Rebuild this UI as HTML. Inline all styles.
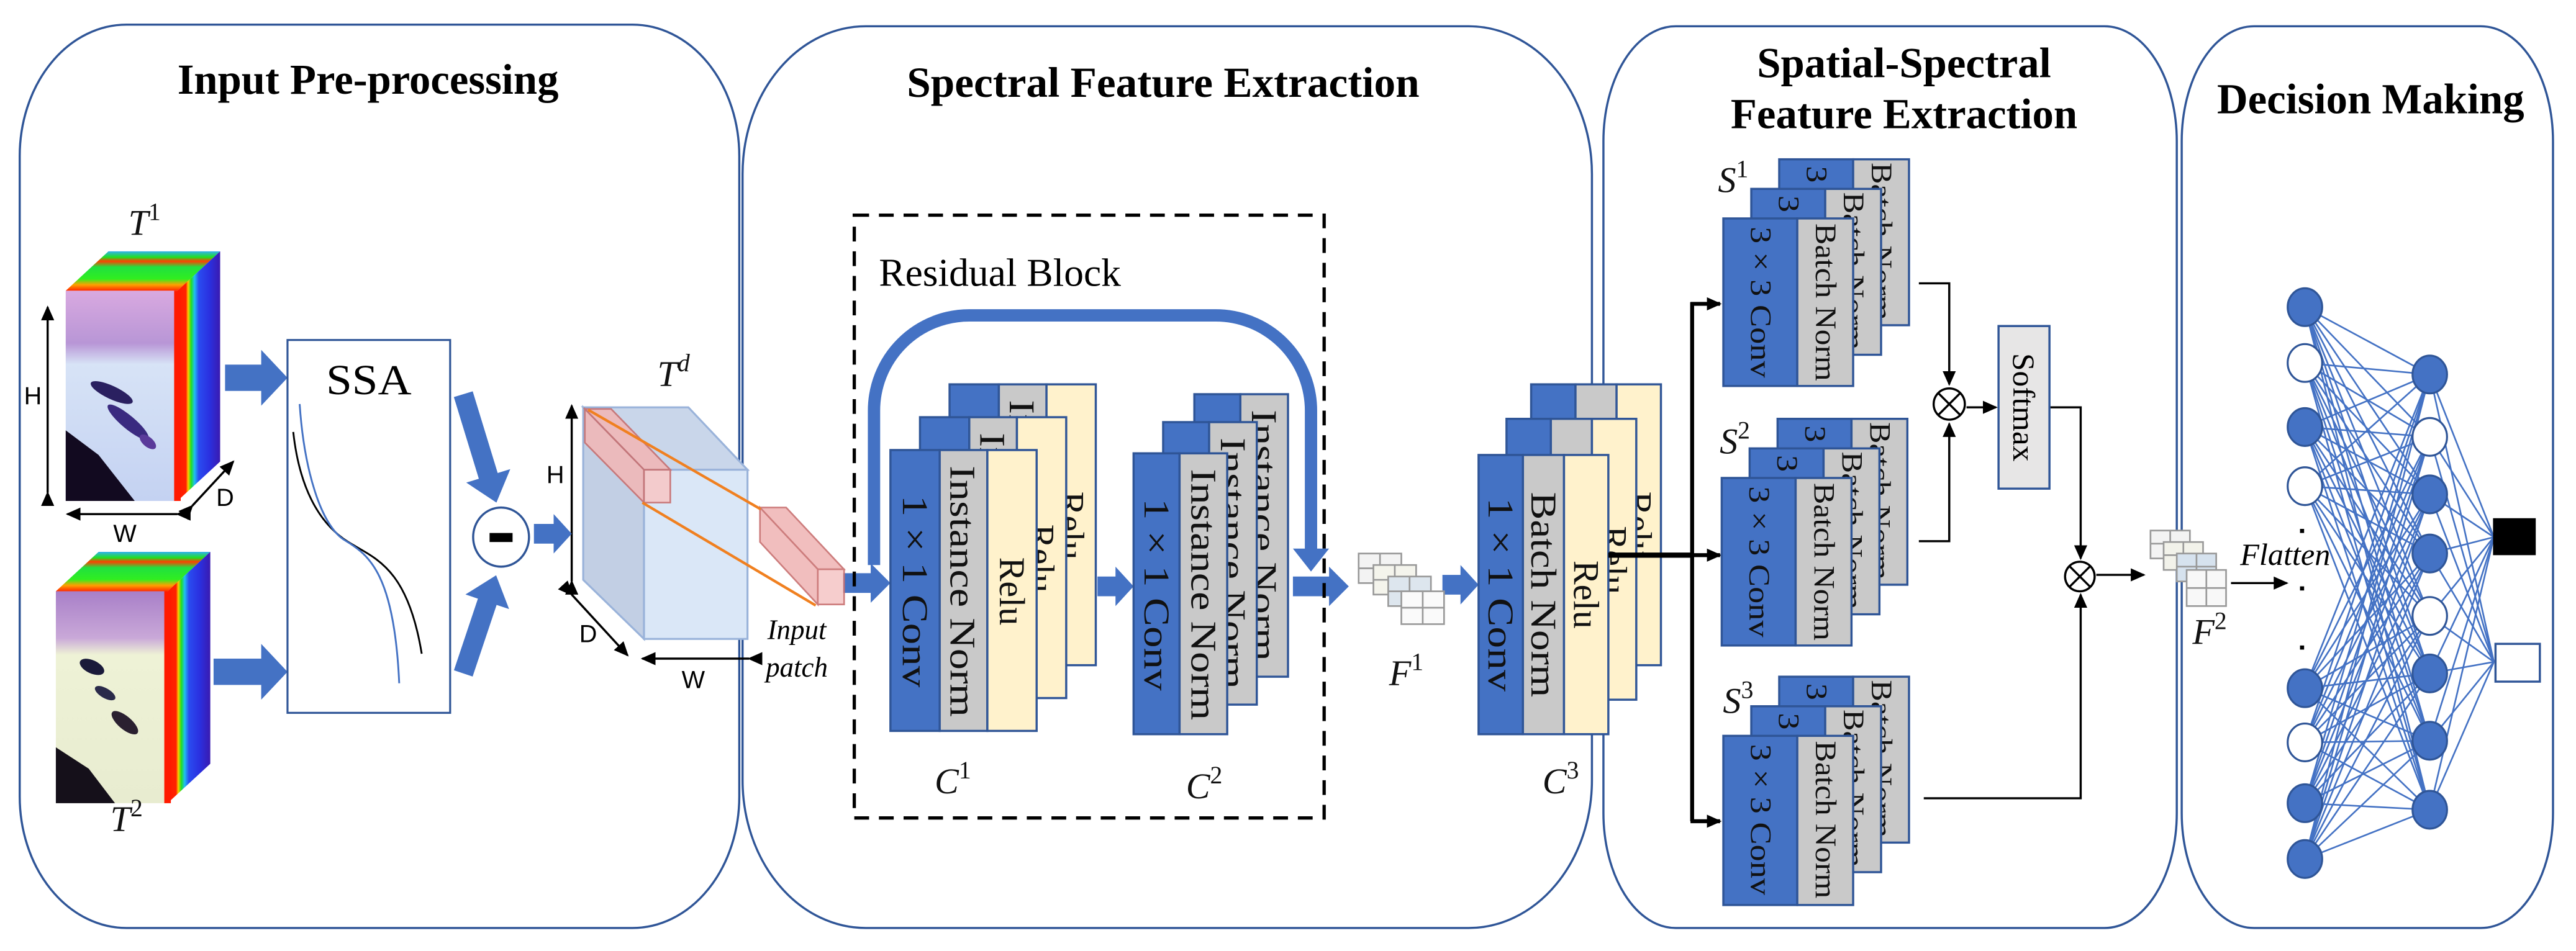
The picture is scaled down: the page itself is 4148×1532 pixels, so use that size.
<!DOCTYPE html>
<html><head><meta charset="utf-8">
<style>
html,body{margin:0;padding:0;background:#fff;}
svg{display:block;}
text{font-family:"Liberation Serif",serif;}
.t{font-weight:bold;font-size:26px;fill:#000;}
.c{font-size:22px;fill:#111;}
.s{font-size:18px;fill:#111;}
.sa{font-family:"Liberation Sans",sans-serif;font-size:15px;}
.it{font-style:italic;}
</style></head>
<body>
<svg width="4148" height="1532" viewBox="0 0 1568 579" preserveAspectRatio="none" xmlns="http://www.w3.org/2000/svg">
<defs>
<marker id="ah" markerWidth="10" markerHeight="10" refX="8" refY="5" orient="auto" markerUnits="userSpaceOnUse">
<path d="M0,1 L9,5 L0,9 Z" fill="#000"/></marker>
<linearGradient id="f1" x1="0" y1="0" x2="0" y2="1">
<stop offset="0" stop-color="#d9a9e0"/><stop offset="0.25" stop-color="#b896d6"/><stop offset="0.35" stop-color="#d7e3f6"/><stop offset="1" stop-color="#c4d2f2"/></linearGradient>
<linearGradient id="f2" x1="0" y1="0" x2="0" y2="1">
<stop offset="0" stop-color="#a87fc8"/><stop offset="0.22" stop-color="#c9a8d8"/><stop offset="0.3" stop-color="#eef2d6"/><stop offset="1" stop-color="#e8ecd0"/></linearGradient>
<linearGradient id="rf" x1="0" y1="0" x2="1" y2="0">
<stop offset="0" stop-color="#ff1a00"/><stop offset="0.2" stop-color="#ff2200"/><stop offset="0.25" stop-color="#ffcc00"/><stop offset="0.32" stop-color="#20e020"/><stop offset="0.4" stop-color="#20c0f0"/><stop offset="0.5" stop-color="#2a4cf0"/><stop offset="0.75" stop-color="#2a30e0"/><stop offset="1" stop-color="#3a1ab0"/></linearGradient>
<linearGradient id="tf" x1="0" y1="1" x2="0" y2="0">
<stop offset="0" stop-color="#ff2a00"/><stop offset="0.15" stop-color="#ffa000"/><stop offset="0.3" stop-color="#30ee20"/><stop offset="0.6" stop-color="#20e040"/><stop offset="0.75" stop-color="#ff4000"/><stop offset="0.85" stop-color="#20e020"/><stop offset="1" stop-color="#30b0f0"/></linearGradient>
</defs>

<!-- panels -->
<g fill="none" stroke="#2f5597" stroke-width="1.3">
<path d="M77,15 H385 A65,80 0 0 1 450,95 V485 A65,80 0 0 1 385,565 H77 A65,80 0 0 1 12,485 V95 A65,80 0 0 1 77,15 Z"/>
<path d="M527,16 H894 A75,90 0 0 1 969,106 V475 A75,90 0 0 1 894,565 H527 A75,90 0 0 1 452,475 V106 A75,90 0 0 1 527,16 Z"/>
<path d="M1020,16 H1281 A44,70 0 0 1 1325,86 V495 A44,70 0 0 1 1281,565 H1020 A44,70 0 0 1 976,495 V86 A44,70 0 0 1 1020,16 Z"/>
<path d="M1372,16 H1510 A44,70 0 0 1 1554,86 V495 A44,70 0 0 1 1510,565 H1372 A44,70 0 0 1 1328,495 V86 A44,70 0 0 1 1372,16 Z"/>
</g>

<!-- titles -->
<text class="t" x="224" y="57" text-anchor="middle" textLength="232" lengthAdjust="spacingAndGlyphs">Input Pre-processing</text>
<text class="t" x="708" y="59" text-anchor="middle" textLength="312" lengthAdjust="spacingAndGlyphs">Spectral Feature Extraction</text>
<text class="t" x="1159" y="47" text-anchor="middle" textLength="179" lengthAdjust="spacingAndGlyphs">Spatial-Spectral</text>
<text class="t" x="1159" y="78" text-anchor="middle" textLength="211" lengthAdjust="spacingAndGlyphs">Feature Extraction</text>
<text class="t" x="1443" y="69" text-anchor="middle" textLength="187" lengthAdjust="spacingAndGlyphs">Decision Making</text>

<!-- T1 cube -->
<g transform="translate(40,177)">
<polygon points="0,0 26,-24 94,-24 68,0" fill="url(#tf)"/>
<polygon points="68,0 94,-24 94,104 68,128" fill="url(#rf)"/>
<rect x="0" y="0" width="68" height="128" fill="url(#f1)"/>
<polygon points="0,85 20,100 42,128 0,128" fill="#120a20"/>
<ellipse cx="28" cy="62" rx="14" ry="4" transform="rotate(25 28 62)" fill="#2a2060"/>
<ellipse cx="38" cy="80" rx="16" ry="4" transform="rotate(40 38 80)" fill="#3a2a80"/>
<ellipse cx="50" cy="92" rx="6" ry="3" transform="rotate(40 50 92)" fill="#5a3a9a"/>
<rect x="66" y="0" width="4" height="128" fill="#ff1a00"/>
</g>
<!-- T2 cube -->
<g transform="translate(34,360)">
<polygon points="0,0 26,-24 94,-24 68,0" fill="url(#tf)"/>
<polygon points="68,0 94,-24 94,105 68,129" fill="url(#rf)"/>
<rect x="0" y="0" width="68" height="129" fill="url(#f2)"/>
<polygon points="0,95 20,108 36,129 0,129" fill="#15101a"/>
<ellipse cx="22" cy="46" rx="8" ry="4" transform="rotate(25 22 46)" fill="#1a1a3a"/>
<ellipse cx="30" cy="62" rx="7" ry="3" transform="rotate(30 30 62)" fill="#2a2a4a"/>
<ellipse cx="42" cy="80" rx="10" ry="4" transform="rotate(40 42 80)" fill="#2a2030"/>
<rect x="66" y="0" width="4" height="129" fill="#ff1a00"/>
</g>
<text x="88" y="143" class="c it" text-anchor="middle">T<tspan dy="-9" font-size="15" font-style="normal">1</tspan></text>
<text x="77" y="506" class="c it" text-anchor="middle">T<tspan dy="-9" font-size="15" font-style="normal">2</tspan></text>
<g stroke="#000" stroke-width="1.3" marker-end="url(#ah)" marker-start="url(#ah)">
<line x1="29" y1="300" x2="29" y2="187" />
<line x1="108" y1="313" x2="41" y2="313"/>
<line x1="117" y1="308" x2="142" y2="281"/>
<line x1="348" y1="354" x2="348" y2="247"/>
<line x1="348" y1="362" x2="382" y2="399"/>
<line x1="456" y1="401" x2="391" y2="401"/>
</g>
<text x="20" y="246" class="sa" text-anchor="middle">H</text>
<text x="76" y="330" class="sa" text-anchor="middle">W</text>
<text x="137" y="308" class="sa" text-anchor="middle">D</text>
<text x="338" y="294" class="sa" text-anchor="middle">H</text>
<text x="358" y="391" class="sa" text-anchor="middle">D</text>
<text x="422" y="419" class="sa" text-anchor="middle">W</text>

<!-- fat arrows -->
<g fill="#4472c4">
<path transform="translate(137,230)" d="M0,-8 H22 V-17 L38,0 L22,17 V8 H0 Z"/>
<path transform="translate(130,409)" d="M0,-8 H29 V-17 L45,0 L29,17 V8 H0 Z"/>
<path transform="translate(282,240) rotate(73)" d="M0,-6 H52 V-14 L69,0 L52,14 V6 H0 Z"/>
<path transform="translate(282,410) rotate(-71.5)" d="M0,-6 H46 V-14 L63,0 L46,14 V6 H0 Z"/>
<path transform="translate(325,325)" d="M0,-6 H12 V-12 L23,0 L12,12 V6 H0 Z"/>
<path transform="translate(513,355)" d="M0,-6 H17 V-12 L29,0 L17,12 V6 H0 Z"/>
<path transform="translate(668,357)" d="M0,-6 H11 V-12 L22,0 L11,12 V6 H0 Z"/>
<path transform="translate(787,357)" d="M0,-6 H22 V-12 L34,0 L22,12 V6 H0 Z"/>
<path transform="translate(878,356)" d="M0,-6 H11 V-12 L22,0 L11,12 V6 H0 Z"/>
</g>

<!-- SSA -->
<rect x="175" y="207" width="99" height="227" fill="#fff" stroke="#2f5597" stroke-width="1.2"/>
<text x="224.5" y="240" font-size="26" text-anchor="middle" textLength="52" lengthAdjust="spacingAndGlyphs">SSA</text>
<path d="M178.5,263 C182,295 193,318 212,330 C228,340 248,345 256.7,398" fill="none" stroke="#000" stroke-width="1.1"/>
<path d="M182.4,246 C185,285 195,320 210,329 C225,338 240,350 243,416" fill="none" stroke="#4472c4" stroke-width="1.1"/>

<!-- minus circle -->
<ellipse cx="305" cy="327" rx="17" ry="18" fill="#fff" stroke="#2f5597" stroke-width="1.3"/>
<rect x="298" y="324.5" width="14" height="5.5" fill="#000"/>

<!-- Td cube -->
<text x="410" y="235" class="c it" text-anchor="middle">T<tspan dy="-9" font-size="15">d</tspan></text>
<polygon points="355,248 419,248 455,286 392,286" fill="#c9d6ea" stroke="#9ab3da" stroke-width="1.2"/>
<polygon points="355,248 392,286 392,389 355,353" fill="#c2cfe4" stroke="#9ab3da" stroke-width="1.2"/>
<rect x="392" y="286" width="63" height="103" fill="#dae7f7" stroke="#9ab3da" stroke-width="1.2"/>
<g fill="#f0b8b8" stroke="#c87070" stroke-width="1" opacity="0.9">
<polygon points="356,249 372,249 408,286 392,286"/>
<polygon points="356,249 392,286 392,306 356,269.5"/>
<rect x="392" y="286" width="16" height="20" fill="#f6c8c8"/>
<polygon points="462.6,309 478.5,309 513.7,346.6 497.8,346.6"/>
<polygon points="462.6,309 497.8,346.6 497.8,368 462.6,330"/>
<rect x="497.8" y="346.6" width="16" height="21.4" fill="#f6c8c8"/>
</g>
<line x1="358" y1="249.5" x2="463" y2="310" stroke="#f08020" stroke-width="1.6"/>
<line x1="391" y1="306" x2="496.5" y2="368.6" stroke="#f08020" stroke-width="1.6"/>
<text x="485" y="389" font-size="17" class="it" text-anchor="middle">Input</text>
<text x="485" y="412" font-size="17" class="it" text-anchor="middle">patch</text>

<!-- Residual block -->
<rect x="520" y="131" width="286" height="367" fill="none" stroke="#000" stroke-width="2" stroke-dasharray="9,6"/>
<text x="535" y="174" font-size="24">Residual Block</text>
<path d="M532,344 V250 A58,58 0 0 1 590,192 H740 A58,58 0 0 1 798,250 V336" fill="none" stroke="#4472c4" stroke-width="7.5"/>
<polygon points="787,334 809,334 798,348" fill="#4472c4"/>

<!-- C1 cards -->
<g stroke="#2f5597" stroke-width="1.3">
<g transform="translate(578,234)"><rect width="30" height="171" fill="#4472c4"/><rect x="30" width="29" height="171" fill="#c9c9c9"/><rect x="59" width="30" height="171" fill="#fff2cc"/></g>
</g>
<g transform="translate(578,234)" class="c"><text transform="translate(44,86) rotate(90)" text-anchor="middle" dominant-baseline="central" textLength="153" lengthAdjust="spacingAndGlyphs">Instance Norm</text><text transform="translate(74,86) rotate(90)" text-anchor="middle" dominant-baseline="central">Relu</text></g>
<g stroke="#2f5597" stroke-width="1.3">
<g transform="translate(560,254)"><rect width="30" height="171" fill="#4472c4"/><rect x="30" width="29" height="171" fill="#c9c9c9"/><rect x="59" width="30" height="171" fill="#fff2cc"/></g>
</g>
<g transform="translate(560,254)" class="c"><text transform="translate(44,86) rotate(90)" text-anchor="middle" dominant-baseline="central" textLength="153" lengthAdjust="spacingAndGlyphs">Instance Norm</text><text transform="translate(74,86) rotate(90)" text-anchor="middle" dominant-baseline="central">Relu</text></g>
<g stroke="#2f5597" stroke-width="1.3">
<g transform="translate(542,274)"><rect width="30" height="171" fill="#4472c4"/><rect x="30" width="29" height="171" fill="#c9c9c9"/><rect x="59" width="30" height="171" fill="#fff2cc"/></g>
</g>
<g transform="translate(542,274)" class="c"><text transform="translate(15,86) rotate(90)" text-anchor="middle" dominant-baseline="central" textLength="117" lengthAdjust="spacingAndGlyphs">1 × 1 Conv</text><text transform="translate(44,86) rotate(90)" text-anchor="middle" dominant-baseline="central" textLength="153" lengthAdjust="spacingAndGlyphs">Instance Norm</text><text transform="translate(74,86) rotate(90)" text-anchor="middle" dominant-baseline="central">Relu</text></g>
<text x="580" y="483" class="c it" text-anchor="middle">C<tspan dy="-9" font-size="15" font-style="normal">1</tspan></text>

<!-- C2 cards -->
<g transform="translate(727,240)"><rect width="28" height="172" fill="#4472c4" stroke="#2f5597" stroke-width="1.3"/><rect x="28" width="29" height="172" fill="#c9c9c9" stroke="#2f5597" stroke-width="1.3"/><text class="c" transform="translate(42.5,86) rotate(90)" text-anchor="middle" dominant-baseline="central" textLength="153" lengthAdjust="spacingAndGlyphs">Instance Norm</text></g>
<g transform="translate(708,257)"><rect width="28" height="172" fill="#4472c4" stroke="#2f5597" stroke-width="1.3"/><rect x="28" width="29" height="172" fill="#c9c9c9" stroke="#2f5597" stroke-width="1.3"/><text class="c" transform="translate(42.5,86) rotate(90)" text-anchor="middle" dominant-baseline="central" textLength="153" lengthAdjust="spacingAndGlyphs">Instance Norm</text></g>
<g transform="translate(690,276)"><rect width="28" height="171" fill="#4472c4" stroke="#2f5597" stroke-width="1.3"/><rect x="28" width="29" height="171" fill="#c9c9c9" stroke="#2f5597" stroke-width="1.3"/><text class="c" transform="translate(14,86) rotate(90)" text-anchor="middle" dominant-baseline="central" textLength="117" lengthAdjust="spacingAndGlyphs">1 × 1 Conv</text><text class="c" transform="translate(42.5,86) rotate(90)" text-anchor="middle" dominant-baseline="central" textLength="153" lengthAdjust="spacingAndGlyphs">Instance Norm</text></g>
<text x="733" y="486" class="c it" text-anchor="middle">C<tspan dy="-9" font-size="15" font-style="normal">2</tspan></text>

<!-- F1 icon -->
<g fill="#fff" stroke="#999" stroke-width="1">
<rect x="827" y="337" width="26" height="18" fill="#f3f3f3"/><line x1="840" y1="337" x2="840" y2="355"/><line x1="827" y1="346" x2="853" y2="346"/>
<rect x="836" y="344" width="26" height="18" fill="#f4f4ec"/><line x1="849" y1="344" x2="849" y2="362"/><line x1="836" y1="353" x2="862" y2="353"/>
<rect x="845" y="351" width="26" height="18" fill="#dde6ee"/><line x1="858" y1="351" x2="858" y2="369"/><line x1="845" y1="360" x2="871" y2="360"/>
<rect x="853" y="360" width="26" height="20" fill="#fafafa"/><line x1="866" y1="360" x2="866" y2="380"/><line x1="853" y1="370" x2="879" y2="370"/>
</g>
<text x="856" y="417" class="c it" text-anchor="middle">F<tspan dy="-9" font-size="15" font-style="normal">1</tspan></text>

<!-- C3 cards -->
<g transform="translate(932,234)"><rect width="27" height="171" fill="#4472c4" stroke="#2f5597" stroke-width="1.3"/><rect x="27" width="25" height="171" fill="#c9c9c9" stroke="#2f5597" stroke-width="1.3"/><rect x="52" width="27" height="171" fill="#fff2cc" stroke="#2f5597" stroke-width="1.3"/><text class="c" transform="translate(65.5,86) rotate(90)" text-anchor="middle" dominant-baseline="central">Relu</text></g>
<g transform="translate(917,255)"><rect width="27" height="171" fill="#4472c4" stroke="#2f5597" stroke-width="1.3"/><rect x="27" width="25" height="171" fill="#c9c9c9" stroke="#2f5597" stroke-width="1.3"/><rect x="52" width="27" height="171" fill="#fff2cc" stroke="#2f5597" stroke-width="1.3"/><text class="c" transform="translate(65.5,86) rotate(90)" text-anchor="middle" dominant-baseline="central">Relu</text></g>
<g transform="translate(900,277)"><rect width="27" height="170" fill="#4472c4" stroke="#2f5597" stroke-width="1.3"/><rect x="27" width="25" height="170" fill="#c9c9c9" stroke="#2f5597" stroke-width="1.3"/><rect x="52" width="27" height="170" fill="#fff2cc" stroke="#2f5597" stroke-width="1.3"/><text class="c" transform="translate(13.5,85) rotate(90)" text-anchor="middle" dominant-baseline="central" textLength="118" lengthAdjust="spacingAndGlyphs">1 × 1 Conv</text><text class="c" transform="translate(39.5,85) rotate(90)" text-anchor="middle" dominant-baseline="central" textLength="125" lengthAdjust="spacingAndGlyphs">Batch Norm</text><text class="c" transform="translate(65.5,85) rotate(90)" text-anchor="middle" dominant-baseline="central">Relu</text></g>
<text x="950" y="483" class="c it" text-anchor="middle">C<tspan dy="-9" font-size="15" font-style="normal">3</tspan></text>

<!-- branch -->
<line x1="979" y1="338" x2="1031" y2="338" stroke="#000" stroke-width="3.2"/>
<line x1="1030" y1="184" x2="1030" y2="500" stroke="#000" stroke-width="2.4"/>
<g stroke="#000" stroke-width="2.4" marker-end="url(#ah)">
<line x1="1029" y1="185" x2="1047" y2="185"/>
<line x1="1029" y1="338" x2="1047" y2="338"/>
<line x1="1029" y1="500" x2="1047" y2="500"/>
</g>

<!-- S stacks -->
<g id="S1">
<g transform="translate(1083,97)"><rect width="45" height="101" fill="#4472c4" stroke="#2f5597" stroke-width="1.3"/><rect x="45" width="34" height="101" fill="#c9c9c9" stroke="#2f5597" stroke-width="1.3"/><text class="s" transform="translate(22.5,50) rotate(90)" text-anchor="middle" dominant-baseline="central" textLength="92" lengthAdjust="spacingAndGlyphs">3 × 3 Conv</text><text class="s" transform="translate(62,50) rotate(90)" text-anchor="middle" dominant-baseline="central" textLength="96" lengthAdjust="spacingAndGlyphs">Batch Norm</text></g>
<g transform="translate(1066,115)"><rect width="45" height="101" fill="#4472c4" stroke="#2f5597" stroke-width="1.3"/><rect x="45" width="34" height="101" fill="#c9c9c9" stroke="#2f5597" stroke-width="1.3"/><text class="s" transform="translate(22.5,50) rotate(90)" text-anchor="middle" dominant-baseline="central" textLength="92" lengthAdjust="spacingAndGlyphs">3 × 3 Conv</text><text class="s" transform="translate(62,50) rotate(90)" text-anchor="middle" dominant-baseline="central" textLength="96" lengthAdjust="spacingAndGlyphs">Batch Norm</text></g>
<g transform="translate(1049,133)"><rect width="45" height="102" fill="#4472c4" stroke="#2f5597" stroke-width="1.3"/><rect x="45" width="34" height="102" fill="#c9c9c9" stroke="#2f5597" stroke-width="1.3"/><text class="s" transform="translate(22.5,51) rotate(90)" text-anchor="middle" dominant-baseline="central" textLength="92" lengthAdjust="spacingAndGlyphs">3 × 3 Conv</text><text class="s" transform="translate(62,51) rotate(90)" text-anchor="middle" dominant-baseline="central" textLength="96" lengthAdjust="spacingAndGlyphs">Batch Norm</text></g>
</g>
<g>
<g transform="translate(1082,255)"><rect width="45" height="101" fill="#4472c4" stroke="#2f5597" stroke-width="1.3"/><rect x="45" width="34" height="101" fill="#c9c9c9" stroke="#2f5597" stroke-width="1.3"/><text class="s" transform="translate(22.5,50) rotate(90)" text-anchor="middle" dominant-baseline="central" textLength="92" lengthAdjust="spacingAndGlyphs">3 × 3 Conv</text><text class="s" transform="translate(62,50) rotate(90)" text-anchor="middle" dominant-baseline="central" textLength="96" lengthAdjust="spacingAndGlyphs">Batch Norm</text></g>
<g transform="translate(1065,273)"><rect width="45" height="101" fill="#4472c4" stroke="#2f5597" stroke-width="1.3"/><rect x="45" width="34" height="101" fill="#c9c9c9" stroke="#2f5597" stroke-width="1.3"/><text class="s" transform="translate(22.5,50) rotate(90)" text-anchor="middle" dominant-baseline="central" textLength="92" lengthAdjust="spacingAndGlyphs">3 × 3 Conv</text><text class="s" transform="translate(62,50) rotate(90)" text-anchor="middle" dominant-baseline="central" textLength="96" lengthAdjust="spacingAndGlyphs">Batch Norm</text></g>
<g transform="translate(1048,291)"><rect width="45" height="102" fill="#4472c4" stroke="#2f5597" stroke-width="1.3"/><rect x="45" width="34" height="102" fill="#c9c9c9" stroke="#2f5597" stroke-width="1.3"/><text class="s" transform="translate(22.5,51) rotate(90)" text-anchor="middle" dominant-baseline="central" textLength="92" lengthAdjust="spacingAndGlyphs">3 × 3 Conv</text><text class="s" transform="translate(62,51) rotate(90)" text-anchor="middle" dominant-baseline="central" textLength="96" lengthAdjust="spacingAndGlyphs">Batch Norm</text></g>
</g>
<g>
<g transform="translate(1083,412)"><rect width="45" height="101" fill="#4472c4" stroke="#2f5597" stroke-width="1.3"/><rect x="45" width="34" height="101" fill="#c9c9c9" stroke="#2f5597" stroke-width="1.3"/><text class="s" transform="translate(22.5,50) rotate(90)" text-anchor="middle" dominant-baseline="central" textLength="92" lengthAdjust="spacingAndGlyphs">3 × 3 Conv</text><text class="s" transform="translate(62,50) rotate(90)" text-anchor="middle" dominant-baseline="central" textLength="96" lengthAdjust="spacingAndGlyphs">Batch Norm</text></g>
<g transform="translate(1066,430)"><rect width="45" height="101" fill="#4472c4" stroke="#2f5597" stroke-width="1.3"/><rect x="45" width="34" height="101" fill="#c9c9c9" stroke="#2f5597" stroke-width="1.3"/><text class="s" transform="translate(22.5,50) rotate(90)" text-anchor="middle" dominant-baseline="central" textLength="92" lengthAdjust="spacingAndGlyphs">3 × 3 Conv</text><text class="s" transform="translate(62,50) rotate(90)" text-anchor="middle" dominant-baseline="central" textLength="96" lengthAdjust="spacingAndGlyphs">Batch Norm</text></g>
<g transform="translate(1049,448)"><rect width="45" height="103" fill="#4472c4" stroke="#2f5597" stroke-width="1.3"/><rect x="45" width="34" height="103" fill="#c9c9c9" stroke="#2f5597" stroke-width="1.3"/><text class="s" transform="translate(22.5,51) rotate(90)" text-anchor="middle" dominant-baseline="central" textLength="92" lengthAdjust="spacingAndGlyphs">3 × 3 Conv</text><text class="s" transform="translate(62,51) rotate(90)" text-anchor="middle" dominant-baseline="central" textLength="96" lengthAdjust="spacingAndGlyphs">Batch Norm</text></g>
</g>
<text x="1055" y="117" class="c it" text-anchor="middle">S<tspan dy="-9" font-size="15" font-style="normal">1</tspan></text>
<text x="1056" y="276" class="c it" text-anchor="middle">S<tspan dy="-9" font-size="15" font-style="normal">2</tspan></text>
<text x="1058" y="434" class="c it" text-anchor="middle">S<tspan dy="-9" font-size="15" font-style="normal">3</tspan></text>

<!-- attention lines -->
<g fill="none" stroke="#000" stroke-width="1.3">
<polyline points="1168,172.5 1186.5,172.5 1186.5,234" marker-end="url(#ah)"/>
<polyline points="1168,329.5 1186.5,329.5 1186.5,258" marker-end="url(#ah)"/>
<line x1="1197" y1="248" x2="1215" y2="248" marker-end="url(#ah)"/>
<polyline points="1247,248 1266.5,248 1266.5,340" marker-end="url(#ah)"/>
<polyline points="1171,486 1266.5,486 1266.5,362" marker-end="url(#ah)"/>
<line x1="1276" y1="350" x2="1305" y2="350" marker-end="url(#ah)"/>
<line x1="1358" y1="355" x2="1392" y2="355" marker-end="url(#ah)"/>
</g>
<g fill="#fff" stroke="#000" stroke-width="1.3">
<circle cx="1186.5" cy="246" r="9.5"/>
<line x1="1179.8" y1="239.3" x2="1193.2" y2="252.7"/><line x1="1193.2" y1="239.3" x2="1179.8" y2="252.7"/>
<circle cx="1266" cy="351" r="9"/>
<line x1="1259.6" y1="344.6" x2="1272.4" y2="357.4"/><line x1="1272.4" y1="344.6" x2="1259.6" y2="357.4"/>
</g>
<rect x="1216.5" y="198.5" width="31" height="99" fill="#e7e6e6" stroke="#2f5597" stroke-width="1.3"/>
<text transform="translate(1232,248) rotate(90)" font-size="19" text-anchor="middle" dominant-baseline="central" textLength="66" lengthAdjust="spacingAndGlyphs">Softmax</text>

<!-- F2 icon -->
<g fill="#fff" stroke="#999" stroke-width="1">
<rect x="1309" y="323" width="24" height="17" fill="#f3f3f3"/><line x1="1321" y1="323" x2="1321" y2="340"/><line x1="1309" y1="331" x2="1333" y2="331"/>
<rect x="1317" y="330" width="24" height="17" fill="#f2f2ea"/><line x1="1329" y1="330" x2="1329" y2="347"/><line x1="1317" y1="338" x2="1341" y2="338"/>
<rect x="1325" y="337" width="24" height="17" fill="#d6e2ee"/><line x1="1337" y1="337" x2="1337" y2="354"/><line x1="1325" y1="345" x2="1349" y2="345"/>
<rect x="1331" y="347" width="24" height="22" fill="#f8f8f8"/><line x1="1343" y1="347" x2="1343" y2="369"/><line x1="1331" y1="358" x2="1355" y2="358"/>
</g>
<text x="1345" y="392" class="c it" text-anchor="middle">F<tspan dy="-9" font-size="15" font-style="normal">2</tspan></text>
<text x="1391" y="344" font-size="19" class="it" text-anchor="middle">Flatten</text>
<g fill="#000"><rect x="1400" y="322" width="2.5" height="2.5"/><rect x="1400" y="357" width="2.5" height="2.5"/><rect x="1400" y="393" width="2.5" height="2.5"/></g>

<!-- NN -->
<g id="edges" stroke="#4472c4" stroke-width="1" fill="none"></g>
<g id="nodes"></g>
<rect x="1517.5" y="315.5" width="26" height="22.5" fill="#000"/>
<rect x="1519" y="392" width="27" height="23" fill="#fff" stroke="#2f5597" stroke-width="1.3"/>
<script>
(function(){
var ns="http://www.w3.org/2000/svg";
var l1=[[187,1],[221,0],[260,1],[296,0],[419,1],[452,0],[489,1],[523,1]];
var l2=[[228,1],[266,0],[301,1],[337,1],[375,0],[410,1],[451,1],[493,1]];
var outs=[327,403];
var e=document.getElementById("edges"),n=document.getElementById("nodes");
function line(a,b,c,d){var L=document.createElementNS(ns,"line");L.setAttribute("x1",a);L.setAttribute("y1",b);L.setAttribute("x2",c);L.setAttribute("y2",d);e.appendChild(L);}
l1.forEach(function(p){l2.forEach(function(q){line(1403,p[0],1479,q[0]);});});
l2.forEach(function(q){outs.forEach(function(o){line(1479,q[0],1518,o);});});
function node(x,p){var c=document.createElementNS(ns,"ellipse");c.setAttribute("cx",x);c.setAttribute("cy",p[0]);c.setAttribute("rx",10.5);c.setAttribute("ry",11.5);c.setAttribute("fill",p[1]?"#4472c4":"#fff");c.setAttribute("stroke","#2f5597");c.setAttribute("stroke-width","1.2");n.appendChild(c);}
l1.forEach(function(p){node(1403,p);});l2.forEach(function(p){node(1479,p);});
})();
</script>
</svg>
</body></html>
